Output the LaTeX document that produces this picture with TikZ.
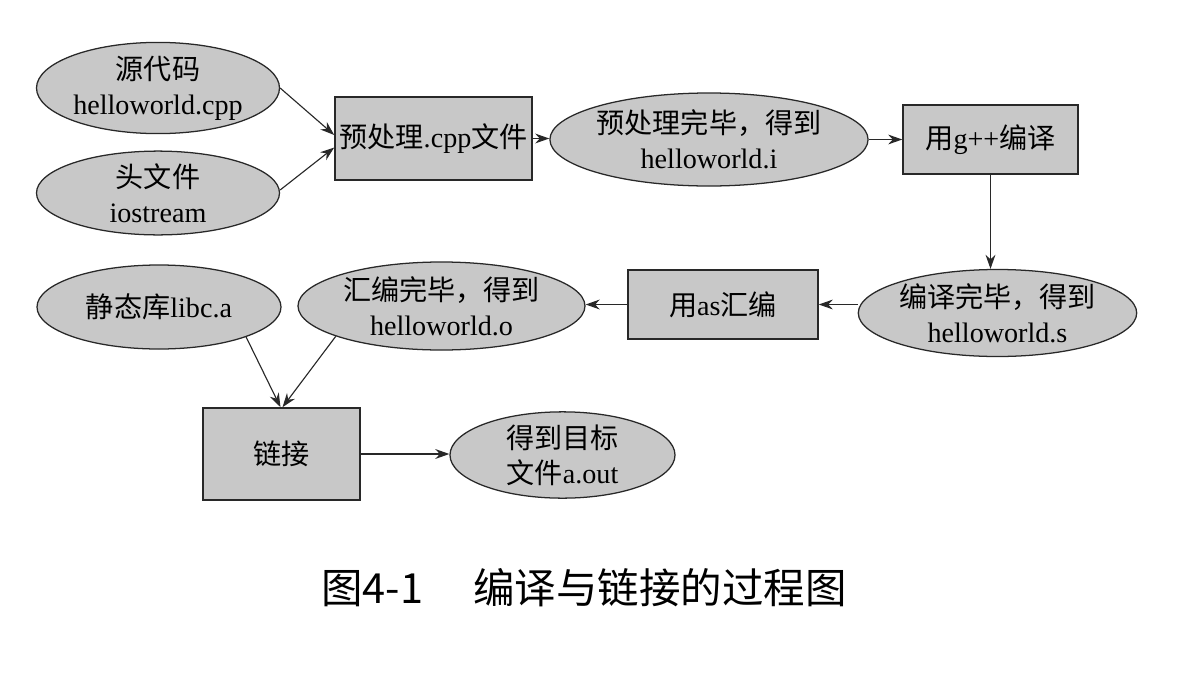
\documentclass[tikz,border=0pt]{standalone}
\usepackage{fontspec}
\setmainfont{Liberation Serif}
\newfontfamily\cjk{Noto Sans CJK SC}
\usetikzlibrary{shapes.geometric,arrows.meta,calc}
\definecolor{fillgray}{RGB}{200,200,200}
\definecolor{linegray}{RGB}{40,40,40}
\begin{document}
\begin{tikzpicture}[x=0.025cm,y=-0.025cm,
  nodefont/.style={font=\fontsize{20}{25}\selectfont},
  ell/.style={ellipse, draw=linegray, line width=0.9pt, fill=fillgray, inner sep=0pt, align=center, nodefont},
  box/.style={rectangle, draw=linegray, line width=1.1pt, fill=fillgray, inner sep=0pt, align=center, nodefont},
  sz/.style 2 args={minimum width=#1*0.025cm, minimum height=#2*0.025cm},
  arr/.style={-{Stealth[length=10pt,width=7pt]}, line width=0.8pt, draw=linegray}]
\fill[white] (0,0) rectangle (1192,678);
\useasboundingbox (0,0) rectangle (1192,678);

\node[ell, sz={243}{80}] (e1) at (158,88) {{\cjk 源代码}\\helloworld.cpp};
\node[ell, sz={243}{83}] (e2) at (158,193) {{\cjk 头文件}\\iostream};
\node[box, sz={197}{83}] (b1) at (433.5,138.5) {{\cjk 预处理}.cpp{\cjk 文件}};
\node[ell, sz={278}{93}] (e3) at (709,139.5) {{\cjk 预处理完毕，得到}\\helloworld.i};
\node[box, sz={175}{69}] (b2) at (990.5,139.5) {{\cjk 用}g++{\cjk 编译}};
\node[ell, sz={271}{87}] (e4) at (997.5,313) {{\cjk 编译完毕，得到}\\helloworld.s};
\node[box, sz={190}{69}] (b3) at (723,304.5) {{\cjk 用}as{\cjk 汇编}};
\node[ell, sz={287}{88}] (e5) at (441.5,306) {{\cjk 汇编完毕，得到}\\helloworld.o};
\node[ell, sz={244}{84}] (e6) at (159,307) {{\cjk 静态库}libc.a};
\node[box, sz={157}{92}] (b4) at (281.5,454) {{\cjk 链接}};
\node[ell, sz={225}{84}] (e7) at (562.5,455) {{\cjk 得到目标}\\{\cjk 文件}a.out};

\node[font=\fontsize{29.5}{36}\selectfont] (cap) at (584,588) {{\cjk 图4-1}\hspace{1.2em}{\cjk 编译与链接的过程图}};

\draw[arr] (e1.east) -- ($(b1.west)+(0,-3.5)$);
\draw[arr] ($(e2.east)+(0,-3)$) -- ($(b1.west)+(0,9)$);
\draw[arr] (b1.east) -- (b1.east -| e3.west);
\draw[arr] (e3.east) -- (e3.east -| b2.west);
\draw[arr] (b2.south) -- (b2.south |- e4.north);
\draw[arr] (e4.west |- b3.east) -- (b3.east);
\draw[arr] (b3.west) -- (b3.west -| e5.east);
\draw[arr] (e6.-19) -- ($(b4.north)+(-1,0)$);
\draw[arr] (e5.-164) -- ($(b4.north)+(1,0)$);
\draw[arr] (b4.east) -- (b4.east -| e7.west);
\end{tikzpicture}
\end{document}
